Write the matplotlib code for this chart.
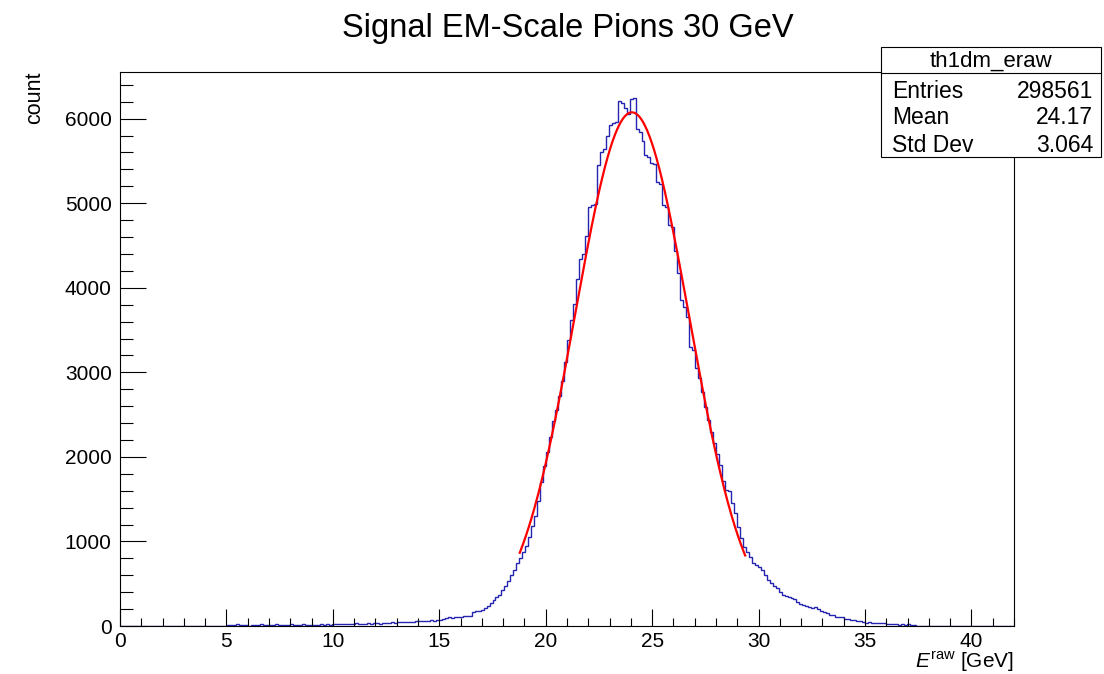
import numpy as np
import matplotlib
matplotlib.use("Agg")
import matplotlib.pyplot as plt
from matplotlib.patches import Rectangle
from matplotlib.lines import Line2D

plt.rcParams["font.family"] = ["Liberation Sans", "DejaVu Sans"]
plt.rcParams["mathtext.fontset"] = "custom"
plt.rcParams["mathtext.rm"] = "Liberation Sans"
plt.rcParams["mathtext.it"] = "Liberation Sans:italic"

# histogram binning (TH1D 300 bins over 0..42 GeV)
n_bins = 300
x_lo, x_hi = 0.0, 42.0
first_bin = 36   # first filled bin (5.04 GeV)

# bin contents, from 5.04 GeV upward
counts = [
    12, 8, 15, 18, 10, 16, 14, 5, 17, 12, 9, 18, 14, 16, 13, 8, 19, 15,
    17, 14, 11, 18, 16, 15, 12, 19, 17, 14, 16, 15, 6, 18, 17, 20, 16, 19,
    22, 24, 19, 26, 23, 28, 25, 30, 27, 24, 29, 31, 26, 33,
    36, 28, 38, 34, 40, 42, 39, 44, 47, 43, 49, 52, 48, 55,
    58, 62, 57, 65, 68, 64, 70, 72,
    85, 98, 102, 96, 105, 108,
    112, 118, 115, 124,
    168, 175, 182, 190,
    215, 238, 272, 305, 340, 372, 430, 475, 530, 600, 668, 745,
    808, 880, 950, 1050, 1180, 1300, 1480, 1700, 1890,
    2060, 2240, 2420, 2560, 2720, 2900, 3120, 3380, 3620,
    3810, 4100, 4340, 4400, 4610, 4960, 4980, 4990, 5450,
    5610, 5640, 5800, 5930, 5950, 5960, 6210, 6190, 6130,
    6050, 6230, 6240, 5880,
    5840, 5740, 5570, 5550, 5470, 5460, 5250, 5230, 4980,
    4960, 4740, 4720, 4430, 4180, 3860, 3770, 3650, 3300,
    3260, 3050, 2930, 2770, 2590, 2440, 2290, 2160, 2040,
    1900, 1720, 1610, 1600, 1450, 1340, 1170, 1040, 935,
    875, 815, 745, 720, 700, 660, 600, 545, 510,
    470, 455, 400, 372, 360, 345, 330, 318, 285,
    262, 248, 240, 228, 215, 220, 205, 172, 165,
    150, 132, 128, 110, 105, 112, 85, 80, 72,
    68, 62, 58, 45, 40, 42, 38, 35, 40,
    32, 30, 22, 20, 18, 24, 17, 20, 15,
    18, 14, 16,
]

# gaussian fit result and range
fit_const = 6075.0
fit_mean = 24.05
fit_sigma = 2.67
fit_range = (18.78, 29.37)

hist_name = "th1dm_eraw"
stats_rows = [("Entries", "298561"), ("Mean", "24.17"), ("Std Dev", "3.064")]

contents = np.zeros(n_bins)
contents[first_bin:first_bin + len(counts)] = counts
edges = np.linspace(x_lo, x_hi, n_bins + 1)

fig = plt.figure(figsize=(11.04, 6.74), dpi=100)
ax = fig.add_axes([120 / 1104, 48 / 674, 894 / 1104, 554 / 674])

ax.stairs(contents, edges, color="#2424b0", lw=1.0)

xf = np.linspace(fit_range[0], fit_range[1], 300)
yf = fit_const * np.exp(-0.5 * ((xf - fit_mean) / fit_sigma) ** 2)
ax.plot(xf, yf, color="red", lw=1.6)

ax.set_xlim(x_lo, x_hi)
ax.set_ylim(0, 1.05 * contents.max())

ax.set_xticks(np.arange(0, 41, 5))
ax.set_xticks(np.arange(0, 43, 1), minor=True)
ax.set_yticks(np.arange(0, 6001, 1000))
ax.set_yticks(np.arange(0, 6550, 200), minor=True)
ax.tick_params(axis="x", which="major", direction="in", length=12, width=0.8,
               labelsize=15, pad=4)
ax.tick_params(axis="x", which="minor", direction="in", length=6, width=0.8)
ax.tick_params(axis="y", which="major", direction="in", length=19, width=0.8,
               labelsize=15, pad=6)
ax.tick_params(axis="y", which="minor", direction="in", length=9.5, width=0.8)
for sp in ax.spines.values():
    sp.set_linewidth(0.8)

fig.text(0.5145, 1 - 28 / 674, "Signal EM-Scale Pions 30 GeV",
         ha="center", va="center", fontsize=23.5)
fig.text(35 / 1104, 1 - 72 / 674, "count", rotation=90,
         ha="center", va="top", fontsize=15.5)
fig.text(1014 / 1104, 1 - 650 / 674, r"$E^{\rm raw}$ [GeV]",
         ha="right", va="top", fontsize=15)

# stats box
bx0, bx1 = 881 / 1104, 1101 / 1104
by0, by1 = 1 - 157 / 674, 1 - 47 / 674
fig.add_artist(Rectangle((bx0, by0), bx1 - bx0, by1 - by0,
                         transform=fig.transFigure, facecolor="white",
                         edgecolor="black", lw=0.8, zorder=5))
fig.add_artist(Line2D([bx0, bx1], [1 - 73 / 674] * 2, transform=fig.transFigure,
                      color="black", lw=0.8, zorder=6))
fig.text((bx0 + bx1) / 2, 1 - 61 / 674, hist_name, ha="center", va="center",
         fontsize=16, zorder=7)
for i, (label, val) in enumerate(stats_rows):
    yy = 1 - (91 + 27 * i) / 674
    fig.text(892 / 1104, yy, label, ha="left", va="center", fontsize=16.5, zorder=7)
    fig.text(1093 / 1104, yy, val, ha="right", va="center", fontsize=16.5, zorder=7)

fig.savefig("out.png", dpi=100)
